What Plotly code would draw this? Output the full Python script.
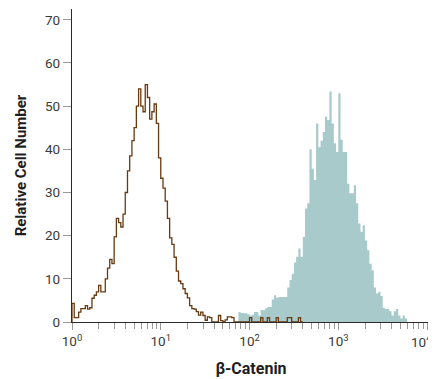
import numpy as np
import plotly.graph_objects as go

# ---- data (histogram channels, 40 channels per decade) ----
CHANNELS_PER_DECADE = 40

# isotype control (outline), starting at channel 0
ctrl_start = 0
ctrl_counts = [
    4.3, 1.0, 1.0, 2.3, 3.1, 3.1, 3.8, 3.0, 3.3, 5.5,
    6.2, 7.0, 8.5, 7.0, 7.0, 10.0, 12.5, 14.5, 13.5, 19.7,
    24.0, 23.0, 22.0, 25.0, 30.0, 35.0, 38.5, 42.0, 45.0, 50.0,
    54.0, 50.0, 48.7, 55.0, 52.0, 47.0, 48.7, 50.5, 46.0, 38.0,
    33.3, 31.0, 28.0, 24.0, 19.5, 18.0, 15.0, 11.8, 9.5, 8.9,
    7.7, 6.6, 5.6, 3.8, 3.1, 3.0, 2.4, 1.6, 2.3, 1.5,
    0.4, 1.2, 1.0, 0.0, 0.0, 0.0, 1.5, 0.3, 0.0, 0.5,
    1.2, 1.2, 1.0, 0.0, 0.0, 0.0, 0.0, 0.0, 0.0, 0.0,
    1.0, 0.0, 0.0, 0.0, 0.0, 1.0, 0.0, 0.0, 1.0, 0.0,
    0.0, 0.0, 1.0, 0.0, 0.0, 0.0, 0.0, 1.0, 1.0, 0.0,
    0.0, 0.0, 1.0, 0.0,
]

# beta-Catenin stained cells (filled), starting at channel 75
stained_start = 75
stained_counts = [
    2.3, 2.1, 2.0, 2.0, 1.8, 1.5, 1.7, 2.3, 2.3, 1.5,
    2.8, 2.7, 3.2, 3.5, 3.5, 5.2, 6.2, 5.6, 5.8, 5.8,
    5.8, 5.8, 8.0, 9.7, 11.2, 13.8, 15.1, 17.0, 15.1, 19.7,
    26.3, 27.5, 40.0, 35.5, 32.9, 46.0, 40.5, 42.0, 44.0, 47.6,
    46.8, 53.4, 46.0, 41.4, 39.4, 53.0, 42.2, 39.4, 39.4, 32.0,
    29.8, 29.8, 31.7, 27.5, 22.8, 20.9, 22.4, 18.9, 16.6, 13.5,
    12.0, 8.0, 6.6, 7.0, 6.0, 3.3, 3.0, 3.0, 2.5, 1.5,
    2.5, 3.0, 1.5, 0.8, 1.5, 0.8,
]

x_tick_vals = [1, 10, 100, 1000, 10000]
x_tick_text = ["10<sup>0</sup>", "10<sup>1</sup>", "10<sup>2</sup>",
               "10<sup>3</sup>", "10<sup>4</sup>"]
x_minor_vals = [m * d for d in (1, 10, 100, 1000) for m in range(2, 10)]
y_tick_vals = [0, 10, 20, 30, 40, 50, 60, 70]

x_title = "β-Catenin"
y_title = "Relative Cell Number"


def step_xy(start, counts):
    n = len(counts)
    edges = 10 ** ((start + np.arange(n + 1)) / CHANNELS_PER_DECADE)
    xs = [edges[0]] + list(edges) + [edges[-1]]
    ys = [0] + list(counts) + [counts[-1], 0]
    return xs, ys


FONT = "Roboto, Liberation Sans, sans-serif"
TICK_FONT = dict(family=FONT, size=13.5, color="#3a3a3a")

fig = go.Figure()

sx, sy = step_xy(stained_start, stained_counts)
fig.add_trace(go.Scatter(
    x=sx, y=sy, mode="lines", line_shape="hv",
    line=dict(width=0, color="#a9cacb"),
    fill="tozeroy", fillcolor="#a9cacb",
    hoverinfo="skip", showlegend=False,
))

cx, cy = step_xy(ctrl_start, ctrl_counts)
fig.add_trace(go.Scatter(
    x=cx, y=cy, mode="lines", line_shape="hv",
    line=dict(width=1.3, color="#673a10"),
    hoverinfo="skip", showlegend=False,
))

# the last tick label sits on the page edge, where Plotly drops it;
# it is drawn as a paper-anchored annotation under its tick instead
tick_text_axis = x_tick_text[:-1] + [""]
fig.add_annotation(
    x=1.0, y=0, xref="paper", yref="paper",
    text=x_tick_text[-1], showarrow=False,
    xanchor="right", yanchor="middle", xshift=4, yshift=-19,
    font=TICK_FONT,
)

# the page body adds an 8px offset, so the figure is 8px smaller
fig.update_layout(
    width=428, height=371,
    margin=dict(l=64, r=6, t=1, b=57),
    paper_bgcolor="white", plot_bgcolor="white",
    font=dict(family=FONT, color="#3a3a3a", size=13),
    xaxis=dict(
        type="log", range=[0, 4.033], automargin=False,
        tickmode="array", tickvals=x_tick_vals, ticktext=tick_text_axis,
        ticks="outside", ticklen=7, tickwidth=1, tickcolor="#9a9a9a",
        minor=dict(tickmode="array", tickvals=x_minor_vals, ticks="outside",
                   ticklen=6, tickwidth=1, tickcolor="#9a9a9a", showgrid=False),
        showline=True, linecolor="#2a2a2a", linewidth=1.2,
        showgrid=False, zeroline=False,
        tickfont=TICK_FONT,
        title=dict(text=x_title, standoff=14,
                   font=dict(size=16, color="#1e1e1e", weight="bold")),
    ),
    yaxis=dict(
        range=[0, 72.5], automargin=False,
        tickmode="array", tickvals=y_tick_vals,
        ticks="outside", ticklen=8, tickwidth=1, tickcolor="#9a9a9a",
        showline=True, linecolor="#2a2a2a", linewidth=1.2,
        showgrid=False, zeroline=False,
        tickfont=TICK_FONT,
        title=dict(text=y_title, standoff=14,
                   font=dict(size=15, color="#1e1e1e", weight="bold")),
    ),
)

fig.write_html("out.html")
